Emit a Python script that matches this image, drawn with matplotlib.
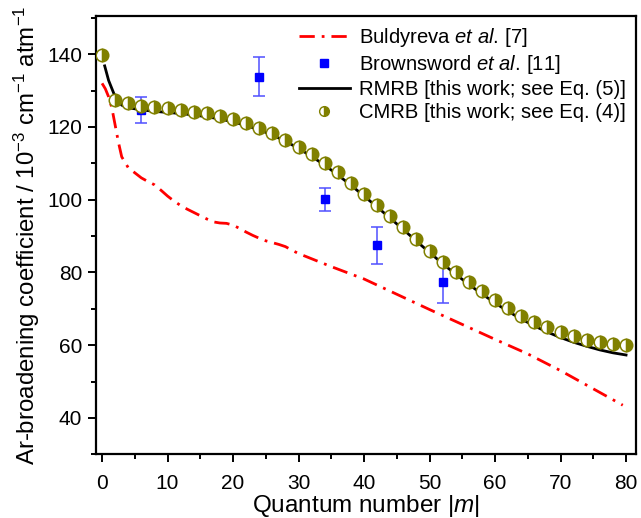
import numpy as np
import matplotlib.pyplot as plt
from matplotlib.ticker import MultipleLocator
from matplotlib.lines import Line2D

plt.rcParams['font.family'] = ['Liberation Sans', 'DejaVu Sans']
plt.rcParams['mathtext.fontset'] = 'custom'
plt.rcParams['mathtext.rm'] = 'Liberation Sans'
plt.rcParams['mathtext.it'] = 'Liberation Sans:italic'

# --- data ---
# CMRB (Eq. 4), every second |m|
m_cmrb = np.arange(0, 81, 2)
g_cmrb = [139.8, 127.4, 126.5, 125.9, 125.6, 125.1, 124.7, 124.2, 123.8, 123.0,
          122.1, 121.0, 119.8, 118.4, 116.5, 114.6, 112.6, 110.2, 107.5, 104.7,
          101.6, 98.6, 95.6, 92.4, 89.2, 86.0, 82.9, 80.0, 77.3, 74.8,
          72.3, 70.1, 68.1, 66.5, 65.0, 63.5, 62.4, 61.5, 60.8, 60.3, 60.0]

# RMRB (Eq. 5)
m_rmrb = [0.4, 1, 2, 3, 4, 6, 8, 10, 12, 14, 16, 18, 20, 22, 24, 26, 28, 30,
          32, 34, 36, 38, 40, 42, 44, 46, 48, 50, 52, 54, 56, 58, 60, 62, 64,
          66, 68, 70, 72, 74, 76, 78, 80]
g_rmrb = [136.8, 132.8, 128.3, 126.0, 125.3, 124.7, 124.3, 124.0, 123.7, 123.3,
          122.8, 122.2, 121.4, 120.4, 119.2, 117.8, 116.1, 114.1, 111.9, 109.5,
          106.8, 104.0, 101.0, 98.0, 94.9, 91.8, 88.6, 85.5, 82.4, 79.5,
          76.7, 74.1, 71.6, 69.3, 67.2, 65.3, 63.6, 62.1, 60.8, 59.7, 58.7,
          57.9, 57.3]

# Buldyreva et al. [7]
m_buld = [0, 0.5, 1, 1.5, 2, 2.5, 3, 4, 5, 6, 7, 8, 9, 10, 11, 12, 13, 14, 15,
          16, 17, 18, 19, 20, 21, 22, 23, 24, 25, 26, 27, 28, 29, 30, 35, 40,
          45, 50, 55, 60, 65, 70, 75, 79.5]
g_buld = [132.0, 130.5, 128.3, 125.2, 120.5, 115.8, 111.8, 108.8, 107.4, 106.0,
          105.0, 104.1, 102.6, 101.0, 99.6, 98.4, 97.4, 96.5, 95.6, 94.7, 93.9,
          93.6, 93.5, 93.0, 92.1, 91.1, 90.2, 89.4, 88.7, 88.2, 87.7, 87.1,
          86.1, 85.2, 81.6, 78.2, 74.0, 69.8, 65.7, 61.6, 57.6, 53.0, 48.0, 43.5]

# Brownsword et al. [11]
m_brown = [6, 24, 34, 42, 52]
g_brown = [124.7, 133.8, 100.1, 87.5, 77.4]
e_brown = [3.5, 5.4, 3.1, 5.1, 5.8]

olive = '#808000'
fig = plt.figure(figsize=(6.41, 5.18), dpi=100)
ax = fig.add_axes([0.149, 0.123, 0.843, 0.846])

h1, = ax.plot(m_buld, g_buld, color='#ff0000', lw=2, dashes=(5.5, 2.5, 1, 2.5))
ax.errorbar(m_brown, g_brown, yerr=e_brown, fmt='s', color='#0000ff', ms=6,
            ecolor='#5050ff', elinewidth=1.1, capsize=4, capthick=1.1, zorder=4)
h3, = ax.plot(m_rmrb, g_rmrb, color='black', lw=2, zorder=3)
h4, = ax.plot(m_cmrb, g_cmrb, 'o', ms=9, fillstyle='right', color=olive,
              markerfacecolor=olive, markerfacecoloralt='white',
              markeredgecolor=olive, markeredgewidth=1.1, ls='none', zorder=5)
h2 = Line2D([], [], marker='s', ls='none', color='#0000ff', ms=6)
h4l = Line2D([], [], marker='o', ls='none', ms=7, fillstyle='right',
             markerfacecolor=olive, markerfacecoloralt='white',
             markeredgecolor=olive, markeredgewidth=1.0)

ax.set_xlim(-1, 81.5)
ax.set_ylim(30, 150.5)
ax.xaxis.set_major_locator(MultipleLocator(10))
ax.xaxis.set_minor_locator(MultipleLocator(5))
ax.yaxis.set_major_locator(MultipleLocator(20))
ax.yaxis.set_minor_locator(MultipleLocator(10))
ax.set_yticks([40, 60, 80, 100, 120, 140])
ax.tick_params(which='major', direction='out', length=6, width=1.4, labelsize=15)
ax.tick_params(which='minor', direction='out', length=3.5, width=1.4)
ax.tick_params(axis='x', which='major', pad=8)
for s in ax.spines.values():
    s.set_linewidth(1.6)

ax.set_xlabel('Quantum number |$m$|', fontsize=17.5, labelpad=0)
ax.set_ylabel('Ar-broadening coefficient / 10$^{\u22123}$ cm$^{\u22121}$ atm$^{\u22121}$',
              fontsize=17.3, labelpad=4)

labels = ['Buldyreva $\\it{et\\ al.}\\,$[7]',
          'Brownsword $\\it{et\\ al.}\\,$[11]',
          'RMRB [this work; see Eq. (5)]',
          'CMRB [this work; see Eq. (4)]']
ax.legend([h1, h2, h3, h4l], labels, loc='upper right', frameon=False,
          fontsize=14.6, handlelength=2.5, labelspacing=0.2, handletextpad=0.45,
          borderaxespad=0.3, borderpad=0.2)

fig.savefig('out.png', dpi=100)
